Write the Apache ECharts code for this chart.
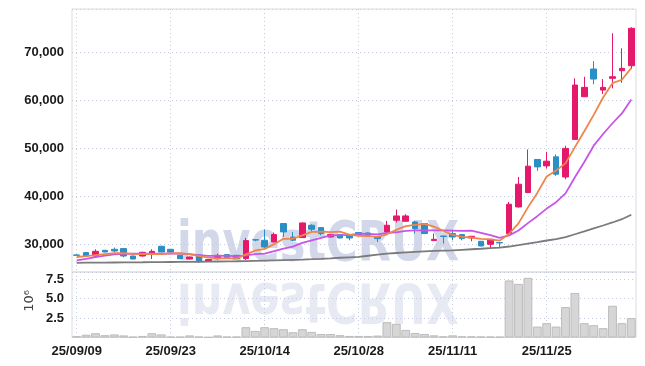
<!DOCTYPE html>
<html>
<head>
<meta charset="utf-8">
<script src="https://cdn.jsdelivr.net/npm/echarts@6/dist/echarts.min.js"></script>
<style>
html,body{margin:0;padding:0;background:#fff;}
#chart{width:645px;height:366px;}
</style>
</head>
<body>
<div id="chart"></div>
<script>
const dates = ['25/09/09','25/09/10','25/09/11','25/09/12','25/09/15','25/09/16','25/09/17','25/09/18','25/09/19','25/09/22',
'25/09/23','25/09/24','25/09/25','25/09/26','25/09/29','25/09/30','25/10/01','25/10/02','25/10/10','25/10/13',
'25/10/14','25/10/15','25/10/16','25/10/17','25/10/20','25/10/21','25/10/22','25/10/23','25/10/24','25/10/27',
'25/10/28','25/10/29','25/10/30','25/10/31','25/11/03','25/11/04','25/11/05','25/11/06','25/11/07','25/11/10',
'25/11/11','25/11/12','25/11/13','25/11/14','25/11/17','25/11/18','25/11/19','25/11/20','25/11/21','25/11/24',
'25/11/25','25/11/26','25/11/27','25/11/28','25/12/01','25/12/02','25/12/03','25/12/04','25/12/05','25/12/08'];

const openP = [27850,28330,27625,28810,29020,29170,27625,27625,27980,29650,
29020,27770,27000,27860,26520,27080,27920,27770,27080,31000,
30900,30540,34380,31580,31460,34020,33540,31580,32080,31790,
32500,32420,31580,32630,35060,34850,34710,34380,30830,31780,
32290,32080,31380,30690,30060,30420,32290,37830,40830,47710,
46370,48250,44060,51870,60750,66520,62140,64580,66160,67200];
const closeP = [27770,27630,28600,28460,28670,27625,27000,28400,28600,28460,
28460,27080,27420,26580,26880,27770,27210,27080,30830,30960,
29500,32080,32630,30900,34500,33190,32290,32080,31380,31380,
32080,32000,31250,34020,35960,35960,33330,32290,31100,31700,
31580,31250,31730,29710,31100,30350,38390,42560,46310,46160,
47350,44640,50000,63180,62700,64430,62700,64910,66660,74990];
const lowP = [27700,27600,27350,28400,28460,27350,26950,27500,27000,28400,
28000,27000,26900,26170,26450,26900,27150,27000,26790,30700,
29170,30500,31580,30690,31400,32630,31940,31500,31300,30900,
31790,31580,30540,32290,34580,34800,32290,32200,30800,30210,
30900,30900,30690,29650,29170,29500,32200,37700,40700,45330,
45830,44290,43600,51800,60700,63330,61310,62500,63660,66520];
const highP = [27900,28400,29020,28900,29380,29300,27700,28500,29020,29750,
29100,27900,27500,27900,26950,28100,28000,27850,31380,31050,
33120,32500,34450,32630,34600,34230,33600,32200,32200,31850,
32600,32500,31700,34920,37290,36310,34920,34450,32290,31790,
32980,32150,31800,30750,31150,30540,38870,44080,49790,47800,
49290,48750,50540,64580,64910,68180,64430,73950,70830,75200];

const ma5 = [27420,27620,27830,28030,28226,28197,28071,28031,28059,28017,
28184,28200,28004,27600,27284,27146,27172,27104,27954,28770,
29116,30090,31200,31214,31922,32660,32702,32592,32688,32064,
31842,31784,31618,32146,33062,33838,34104,34312,33728,32876,
32000,31584,31472,31194,31074,30828,32256,34422,37742,40754,
44154,45404,46892,50266,53574,56990,60602,63584,64280,66738];
const ma10 = [26730,27050,27400,27700,27950,28080,28100,28110,28120,28122,
28191,28136,28018,27830,27651,27665,27686,27554,27777,28027,
28131,28631,29152,29584,30346,30888,31396,31896,31951,31993,
32251,32243,32105,32417,32563,32840,32944,32965,32937,32969,
32919,32844,32892,32461,31975,31414,31920,32947,34468,35914,
37491,38830,40657,44004,47164,50572,53003,55238,57273,60156];
const ma60 = [26210,26230,26250,26260,26280,26300,26320,26330,26350,26360,
26380,26400,26410,26430,26450,26480,26510,26540,26580,26630,
26680,26730,26780,26830,26880,26960,27050,27150,27260,27360,
27460,27680,27900,28120,28250,28380,28500,28600,28680,28750,
28810,28920,29030,29140,29260,29380,29600,29870,30190,30510,
30850,31150,31550,32150,32750,33370,33970,34600,35280,36200];

// volume in millions of shares
const volume = [0.18,0.36,0.55,0.30,0.40,0.27,0.10,0.20,0.55,0.40,
0.10,0.10,0.27,0.12,0.05,0.27,0.12,0.12,1.33,0.85,
1.33,1.20,1.07,0.68,1.07,0.72,0.45,0.45,0.30,0.20,
0.20,0.20,0.25,1.98,1.76,0.98,0.59,0.46,0.28,0.15,
0.28,0.15,0.15,0.13,0.12,0.10,7.36,6.92,7.70,1.41,
1.85,1.41,3.93,5.75,1.85,1.59,1.20,4.10,1.85,2.50];

const priceTicks = [30000,40000,50000,60000,70000];
const volTicks = [2.5,5.0,7.5];

const UP = '#e5196c', DOWN = '#2b8fc7';
const GRIDC = '#c5cbdf';
const FONT = "'Liberation Sans', Arial, sans-serif";

const chart = echarts.init(document.getElementById('chart'), null, {renderer:'canvas'});
const candleData = dates.map((d,i)=>[openP[i], closeP[i], lowP[i], highP[i]]);

const labelStyle = {fontFamily: FONT, fontWeight: 'bold', fontSize: 13, color: '#1a1a1a'};

chart.setOption({
  animation: false,
  backgroundColor: '#fff',
  grid: [
    {left: 72, right: 9, top: 9, height: 263, show: true, borderColor: '#dcdcdc', borderWidth: 1, backgroundColor: 'transparent'},
    {left: 72, right: 9, top: 272, height: 65.5, show: true, borderColor: '#dcdcdc', borderWidth: 1, backgroundColor: 'transparent'}
  ],
  xAxis: [
    {type: 'category', gridIndex: 0, data: dates, boundaryGap: true,
     axisLine: {show: false}, axisTick: {show: false}, axisLabel: {show: false},
     splitLine: {show: true, interval: 9, alignWithLabel: true, lineStyle: {color: GRIDC, type: [1,3], width: 1}}},
    {type: 'category', gridIndex: 1, data: dates, boundaryGap: true,
     axisLine: {show: false}, axisTick: {show: false},
     axisLabel: Object.assign({show: true, interval: 9, margin: 7}, labelStyle),
     splitLine: {show: true, interval: 9, alignWithLabel: true, lineStyle: {color: GRIDC, type: [1,3], width: 1}}}
  ],
  yAxis: [
    {type: 'value', gridIndex: 0, min: 24300, max: 79000, splitNumber: 5, scale: true,
     axisLine: {show: false}, axisTick: {show: false},
     axisLabel: Object.assign({showMinLabel: false, showMaxLabel: false, margin: 8, padding: [4,0,0,0],
       formatter: v => priceTicks.indexOf(v) >= 0 ? v.toLocaleString('en-US') : ''}, labelStyle),
     splitLine: {show: true, lineStyle: {color: GRIDC, type: [1,3], width: 1}}},
    {type: 'value', gridIndex: 1, min: 0, max: 8.45, interval: 2.5,
     axisLine: {show: false}, axisTick: {show: false},
     axisLabel: Object.assign({showMinLabel: false, showMaxLabel: false, margin: 8, padding: [2,0,0,0],
       formatter: v => volTicks.indexOf(v) >= 0 ? v.toFixed(1) : ''}, labelStyle),
     splitLine: {show: true, lineStyle: {color: GRIDC, type: [1,3], width: 1}}}
  ],
  graphic: [
    {type: 'text', z: 0, left: 23, top: 290, rotation: Math.PI/2,
     style: {text: '10⁶', font: '13px "DejaVu Sans", sans-serif', fill: '#444'}},
    {type: 'text', z: 0, x: 177, y: 273, scaleX: 0.77,
     style: {text: 'investCRUX', font: 'bold 56px "DejaVu Sans", sans-serif', fill: 'rgba(192,200,224,0.72)',
             textAlign: 'left', textVerticalAlign: 'bottom', align: 'left', verticalAlign: 'bottom'}},
    {type: 'text', z: 0, x: 177, y: 271, scaleX: 0.77, scaleY: -1,
     style: {text: 'investCRUX', font: 'bold 56px "DejaVu Sans", sans-serif', fill: 'rgba(200,206,226,0.42)',
             textAlign: 'left', textVerticalAlign: 'bottom', align: 'left', verticalAlign: 'bottom'}}
  ],
  series: [
    {type: 'candlestick', name: 'price', xAxisIndex: 0, yAxisIndex: 0, data: candleData, barWidth: 6, z: 2,
     itemStyle: {color: UP, color0: DOWN, borderColor: UP, borderColor0: DOWN, borderWidth: 1}},
    {type: 'line', name: 'MA60', xAxisIndex: 0, yAxisIndex: 0, data: ma60, showSymbol: false, z: 3,
     lineStyle: {color: '#7b7b7b', width: 1.8}},
    {type: 'line', name: 'MA10', xAxisIndex: 0, yAxisIndex: 0, data: ma10, showSymbol: false, z: 3,
     lineStyle: {color: '#c655e8', width: 1.8}},
    {type: 'line', name: 'MA5', xAxisIndex: 0, yAxisIndex: 0, data: ma5, showSymbol: false, z: 4,
     lineStyle: {color: '#ef8549', width: 1.8}},
    {type: 'bar', name: 'volume', xAxisIndex: 1, yAxisIndex: 1, data: volume, barWidth: '94%',
     itemStyle: {color: '#d6d6d6', borderColor: '#bcbcbc', borderWidth: 1}}
  ]
});
</script>
</body>
</html>
